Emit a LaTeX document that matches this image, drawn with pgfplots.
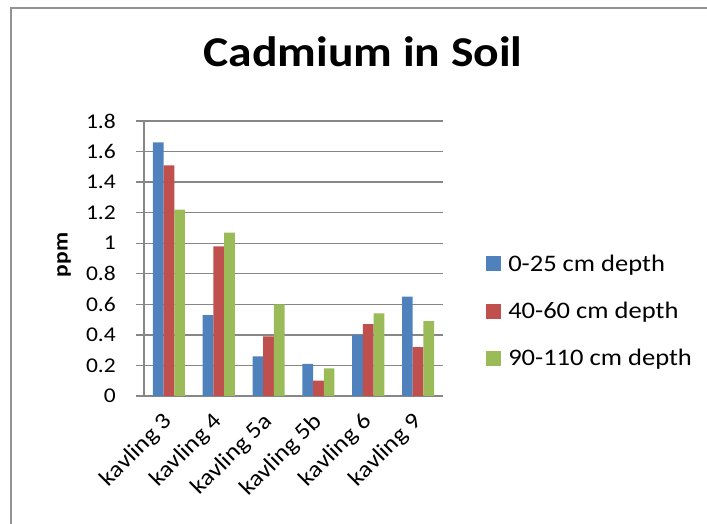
\documentclass[border=0pt]{standalone}
\usepackage{fontspec}
\setmainfont{Carlito}[FakeStretch=1.12]
\usepackage{pgfplots}
\pgfplotsset{compat=1.18}
\definecolor{s1}{HTML}{4F81BD}
\definecolor{s2}{HTML}{C0504D}
\definecolor{s3}{HTML}{9BBB59}
\definecolor{gridc}{HTML}{868686}
\begin{document}
\begin{tikzpicture}
\useasboundingbox (0pt,0pt) rectangle (707pt,524pt);
\draw[gridc!90, line width=1.5pt] (11pt,-10pt) -- (11pt,516pt) -- (712pt,516pt);
\node[anchor=base, font=\fontsize{42.5}{42.5}\bfseries] at (363pt,457pt) {Cadmium in Soil};
\node[rotate=90, font=\fontsize{21}{21}\bfseries] at (64pt,269pt) {ppm};
\begin{axis}[
  at={(144pt,128pt)}, anchor=south west,
  scale only axis, width=299pt, height=275pt,
  xmin=-0.5, xmax=5.5, ymin=0, ymax=1.8,
  ytick={0,0.2,0.4,0.6,0.8,1,1.2,1.4,1.6,1.8},
  xtick={0,1,2,3,4,5},
  xticklabels={kavling 3,kavling 4,kavling 5a,kavling 5b,kavling 6,kavling 9},
  axis x line*=bottom, axis y line*=left,
  axis line style={gridc, line width=1.3pt},
  ymajorgrids, grid style={gridc, line width=1.3pt},
  tick align=outside, major tick length=8pt,
  y tick style={gridc, line width=1.3pt},
  x tick style={draw=none},
  /pgf/number format/assume math mode=true,
  y tick label style={font=\fontsize{21}{21}\selectfont, anchor=east, inner sep=0pt, xshift=-20pt},
  x tick label style={font=\fontsize{23}{23}\selectfont, rotate=45, anchor=north east, inner sep=0pt, xshift=-10pt, yshift=0pt},
  ybar=0pt, bar width=10.7pt,
  legend style={at={(axis description cs:1.144,0.309)}, anchor=west, draw=none, fill=none,
    font=\fontsize{23.7}{23.7}\selectfont, row sep=29.5pt, inner sep=0pt,
    nodes={inner sep=0pt}, /tikz/every odd column/.append style={column sep=7pt}},
  legend cell align=left,
  legend image code/.code={\fill[#1] (0pt,-7.5pt) rectangle (15pt,7.5pt);},
]
\addplot[fill=s1, draw=none] coordinates {(0,1.66) (1,0.53) (2,0.26) (3,0.21) (4,0.40) (5,0.65)};
\addplot[fill=s2, draw=none] coordinates {(0,1.51) (1,0.98) (2,0.39) (3,0.10) (4,0.47) (5,0.32)};
\addplot[fill=s3, draw=none] coordinates {(0,1.22) (1,1.07) (2,0.60) (3,0.18) (4,0.54) (5,0.49)};
\legend{0-25 cm depth, 40-60 cm depth, 90-110 cm depth}
\end{axis}
\end{tikzpicture}
\end{document}
